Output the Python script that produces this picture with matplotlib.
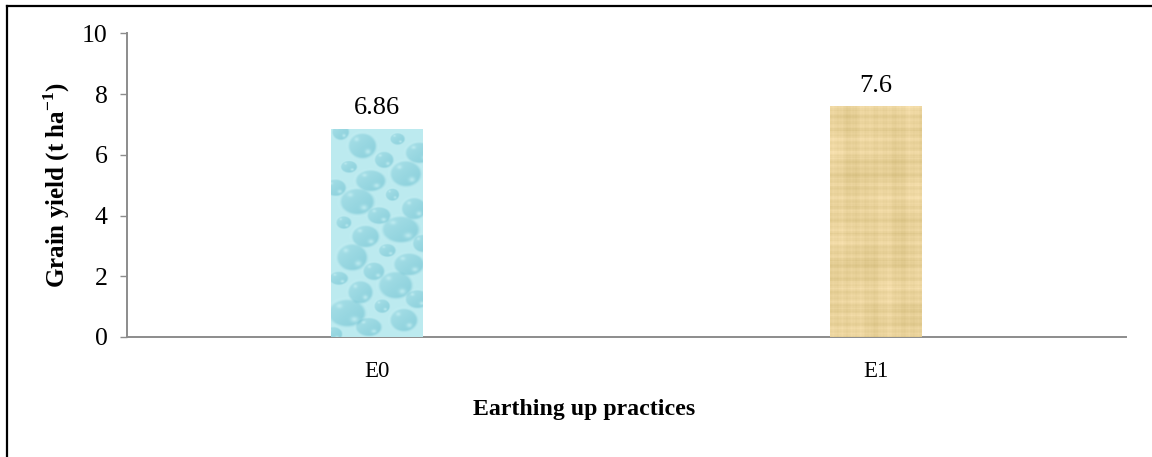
import numpy as np
import matplotlib
matplotlib.use("Agg")
import matplotlib.pyplot as plt
from matplotlib.lines import Line2D

practices = ["E0", "E1"]
grain_yield = [6.86, 7.6]
value_labels = ["6.86", "7.6"]
y_ticks = [0, 2, 4, 6, 8, 10]

plt.rcParams["font.family"] = ["Liberation Serif", "DejaVu Serif"]
plt.rcParams["mathtext.fontset"] = "custom"
plt.rcParams["mathtext.rm"] = "Liberation Serif"
plt.rcParams["mathtext.bf"] = "Liberation Serif:bold"


def drops_texture(rows, cols):
    # light cyan background with soft water drops
    yy, xx = np.mgrid[0:rows, 0:cols].astype(float)
    base = np.array([0.74, 0.92, 0.94])
    shade = np.zeros((rows, cols))
    golden = 0.618034
    n = 30
    for i in range(n):
        cx = ((i * golden + 0.1) % 1.0) * cols
        cy = (i + 0.5) / n * rows
        r = 7 + 12 * ((i * 0.7548 + 0.3) % 1.0)
        ex = 1.0 + 0.35 * ((i * 0.5698) % 1.0)
        dx = (xx - cx) / (r * ex)
        dy = (yy - cy) / r
        d = np.sqrt(dx ** 2 + dy ** 2)
        w = np.clip((1.0 - d) / 0.25, 0, 1)
        # darker toward the lower right of each drop
        tilt = 0.5 + 0.35 * (dx + dy)
        shade -= w * (0.06 + 0.07 * np.clip(tilt, 0, 1.2))
        edge = np.clip(1 - np.abs(d - 0.9) / 0.12, 0, 1)
        shade += 0.03 * edge
        hl = np.exp(-((dx - 0.35) ** 2 + (dy - 0.4) ** 2) / 0.03)
        shade += 0.10 * hl * w
        hl2 = np.exp(-((dx + 0.35) ** 2 + (dy + 0.45) ** 2) / 0.02)
        shade += 0.07 * hl2 * w
    img = base + shade[..., None] * np.array([1.5, 0.8, 0.6])
    return np.clip(img, 0, 1)


def papyrus_texture(rows, cols):
    # tan paper with faint crossing fibres
    yy, xx = np.mgrid[0:rows, 0:cols].astype(float)
    base = np.array([0.91, 0.82, 0.60])
    v = (0.016 * np.sin(yy * 0.93 + 1.3) + 0.012 * np.sin(yy * 0.41 + 0.4)
         + 0.008 * np.sin(yy * 2.7) + 0.010 * np.sin(yy * 0.13 + 2.2))
    h = 0.009 * np.sin(xx * 0.61) + 0.007 * np.sin(xx * 1.9 + 2.0) + 0.008 * np.sin(xx * 0.23)
    blotch = 0.02 * np.sin(xx / 11.0 + yy / 37.0) * np.sin(yy / 23.0 - xx / 17.0)
    t = v + h + blotch
    img = base + t[..., None] * np.array([1.0, 1.0, 1.4])
    return np.clip(img, 0, 1)


fig = plt.figure(figsize=(11.52, 4.57), dpi=100)
ax = fig.add_axes([0.1102, 0.2626, 0.8672, 0.6641])

x = np.arange(len(practices))
width = 0.184
bars = ax.bar(x, grain_yield, width=width, color=["#b3e3ea", "#e5cf98"], zorder=2)

textures = [drops_texture(240, 100), papyrus_texture(240, 100)]
for bar, tex in zip(bars, textures):
    x0 = bar.get_x()
    im = ax.imshow(tex, extent=(x0, x0 + bar.get_width(), 0, bar.get_height()),
                   aspect="auto", interpolation="bilinear", zorder=3)
    im.set_clip_path(bar)

for xi, val, lab in zip(x, grain_yield, value_labels):
    ax.annotate(lab, (xi, val), xytext=(0, 7), textcoords="offset points",
                ha="center", va="bottom", fontsize=19)

ax.set_xlim(-0.5, len(practices) - 0.5)
ax.set_ylim(0, 10)
ax.set_yticks(y_ticks)
ax.set_xticks(x)
ax.set_xticklabels(practices, fontsize=16.5)
ax.tick_params(axis="x", length=0, pad=17)
ax.tick_params(axis="y", length=5, width=1, color="#8c8c8c", labelsize=18.5, pad=9)

for side in ["top", "right"]:
    ax.spines[side].set_visible(False)
for side in ["left", "bottom"]:
    ax.spines[side].set_color("#8c8c8c")
    ax.spines[side].set_linewidth(1.4)

ax.set_xlabel("Earthing up practices", fontsize=17.2, fontweight="bold", va="center")
ax.xaxis.set_label_coords(0.4575, -0.2405)
ax.set_ylabel(r"Grain yield (t ha$^{\mathbf{-1}}$)", fontsize=18, fontweight="bold",
              va="center")
ax.yaxis.set_label_coords(-0.070, 0.5)

# frame lines along the top and left edge
fx = 6.5 / 1152
fy = 1 - 5.5 / 457
fig.add_artist(Line2D([fx, 1], [fy, fy], color="black", lw=1.6))
fig.add_artist(Line2D([fx, fx], [0, fy], color="black", lw=1.6))

fig.savefig("out.png", dpi=100)
